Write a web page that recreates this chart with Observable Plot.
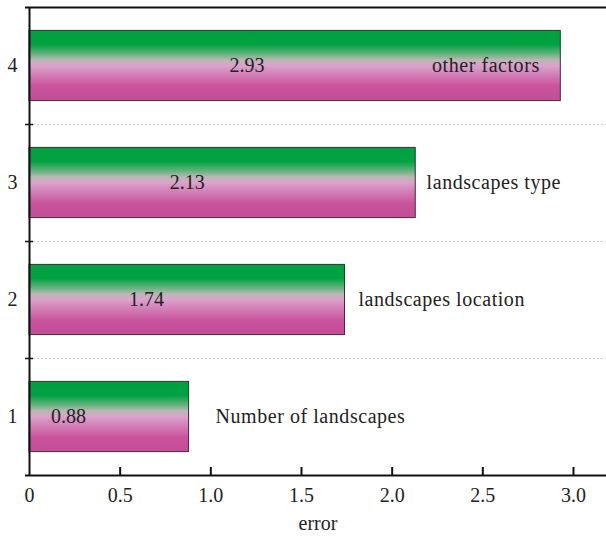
<!DOCTYPE html>
<html>
<head>
<meta charset="utf-8">
<script src="https://cdn.jsdelivr.net/npm/d3@7"></script>
<script src="https://cdn.jsdelivr.net/npm/@observablehq/plot@0.6"></script>
<style>
  html, body { margin: 0; padding: 0; background: #fff; }
</style>
</head>
<body>
<div id="chart"></div>
<script>
// Error contributed by each factor
const levels = [1, 2, 3, 4];
const errors = [0.88, 1.74, 2.13, 2.93];
const factorNames = ["Number of landscapes", "landscapes location", "landscapes type", "other factors"];
// where (in error units) each value label and factor name sits along the bar row
const valueLabelAt = [0.215, 0.645, 0.87, 1.2];
const nameLabelAt = [1.026, 1.814, 2.19, 2.22];
const xTicks = [0, 0.5, 1.0, 1.5, 2.0, 2.5, 3.0];

const rows = levels.map((level, i) => ({
  level,
  error: errors[i],
  name: factorNames[i],
  valueAt: valueLabelAt[i],
  nameAt: nameLabelAt[i]
}));

const xMax = 3.182;
const half = 0.3; // half the bar thickness, in row units
const bounds = [1.5, 2.5, 3.5];
const ink = "#222";
const font = "'Liberation Serif', 'Times New Roman', serif";

const chart = Plot.plot({
  width: 606,
  height: 539,
  marginLeft: 29,
  marginRight: 0,
  marginTop: 7,
  marginBottom: 64,
  style: { fontFamily: font, fontSize: "20px", color: ink, background: "#fff" },
  x: { domain: [0, xMax] },
  y: { domain: [0.5, 4.5] },
  marks: [
    // dashed separators between rows
    Plot.ruleY(bounds, { x1: 0, x2: xMax, stroke: "#c8c8c8", strokeDasharray: "2,2", strokeWidth: 1 }),
    // gradient bars
    Plot.rectX(rows, {
      x1: 0,
      x2: "error",
      y1: d => d.level - half,
      y2: d => d.level + half,
      fill: "url(#barGradient)",
      stroke: "#333",
      strokeWidth: 1
    }),
    Plot.text(rows, { x: "valueAt", y: "level", text: d => d.error.toFixed(2), fill: ink, fontSize: 20 }),
    Plot.text(rows, { x: "nameAt", y: "level", text: "name", textAnchor: "start", fill: ink, fontSize: 20 }),
    // frame lines: top, bottom, left
    Plot.ruleY([0.5, 4.5], { x1: -0.022, x2: xMax, stroke: "#111", strokeWidth: 2 }),
    Plot.ruleX([0], { y1: 0.5, y2: 4.5, stroke: "#111", strokeWidth: 2 }),
    // row separator ticks on the left axis
    Plot.ruleY(bounds, { x1: -0.022, x2: 0.022, stroke: "#111", strokeWidth: 1.5 }),
    // inward ticks on the bottom axis
    Plot.ruleX(xTicks.filter(t => t > 0), { y1: 0.5, y2: 0.5 + 8 / 117, stroke: "#111", strokeWidth: 2 }),
    Plot.axisX(xTicks, {
      tickSize: 0,
      tickPadding: 12,
      tickFormat: d => d === 0 ? "0" : d.toFixed(1),
      fontSize: 20,
      label: "error",
      labelAnchor: "center",
      labelArrow: "none",
      labelOffset: 54
    }),
    Plot.axisY(levels, { tickSize: 0, tickPadding: 12, tickFormat: "d", label: null, fontSize: 20 })
  ]
});

// the factor names are set a little wider
d3.select(chart).selectAll("text")
  .filter(function () { return factorNames.includes(this.textContent); })
  .attr("letter-spacing", "0.55px");

// vertical green-to-magenta fill shared by every bar
const defs = d3.select(chart).insert("defs", ":first-child");
const grad = defs.append("linearGradient")
  .attr("id", "barGradient")
  .attr("x1", 0).attr("y1", 0).attr("x2", 0).attr("y2", 1);
[
  [0, "#00a040"],
  [0.2, "#00a241"],
  [0.33, "#5fb27a"],
  [0.42, "#b8b8b4"],
  [0.5, "#dba2cb"],
  [0.65, "#d27ab4"],
  [0.8, "#c9539c"],
  [1, "#c54d97"]
].forEach(([o, c]) => grad.append("stop").attr("offset", o).attr("stop-color", c));

document.getElementById("chart").appendChild(chart);
</script>
</body>
</html>
